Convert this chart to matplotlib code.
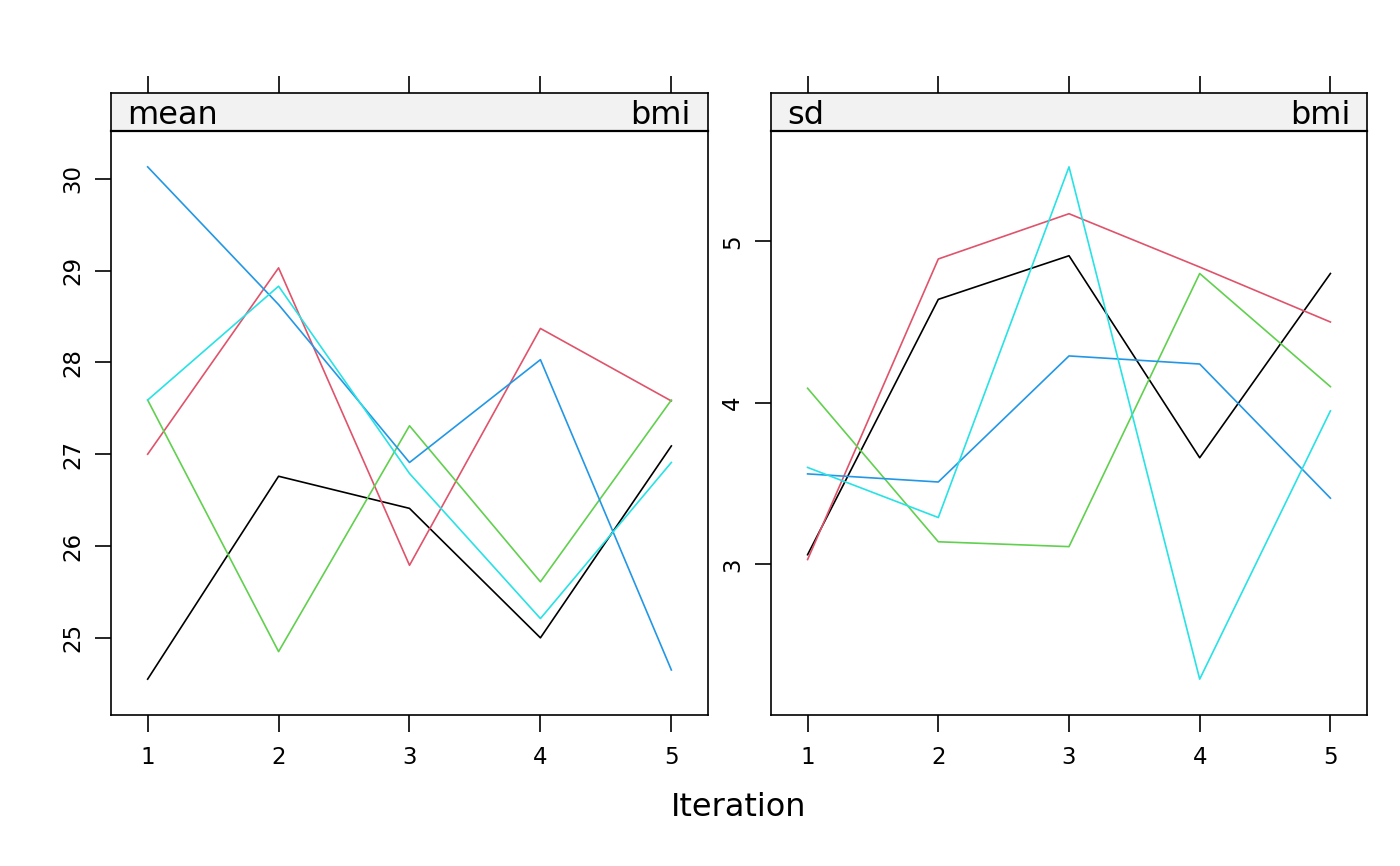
import numpy as np
import matplotlib
matplotlib.use("Agg")
import matplotlib.pyplot as plt

# iterations and chain values
iterations = [1, 2, 3, 4, 5]

mean_chain1 = [24.55, 26.76, 26.41, 25.00, 27.09]
mean_chain2 = [27.00, 29.03, 25.79, 28.37, 27.58]
mean_chain3 = [27.59, 24.85, 27.31, 25.61, 27.59]
mean_chain4 = [30.13, 28.63, 26.91, 28.03, 24.65]
mean_chain5 = [27.59, 28.83, 26.79, 25.21, 26.91]

sd_chain1 = [3.06, 4.64, 4.91, 3.66, 4.80]
sd_chain2 = [3.03, 4.89, 5.17, 4.84, 4.50]
sd_chain3 = [4.09, 3.14, 3.11, 4.80, 4.10]
sd_chain4 = [3.56, 3.51, 4.29, 4.24, 3.41]
sd_chain5 = [3.60, 3.29, 5.46, 2.29, 3.95]

chain_colors = ["#000000", "#DF536B", "#61D04F", "#2297E6", "#28E2E5"]

panels = [
    ("mean", "bmi", [mean_chain1, mean_chain2, mean_chain3, mean_chain4, mean_chain5], [25, 26, 27, 28, 29, 30]),
    ("sd", "bmi", [sd_chain1, sd_chain2, sd_chain3, sd_chain4, sd_chain5], [3, 4, 5]),
]

W, H = 1400, 866
fig = plt.figure(figsize=(W / 100, H / 100), dpi=100)
plt.rcParams['font.family'] = ['DejaVu Sans']

def frac(x0, y0, x1, y1):
    # pixel box -> figure fraction [left, bottom, width, height]
    return [x0 / W, 1 - y1 / H, (x1 - x0) / W, (y1 - y0) / H]

panel_boxes = [(111, 131, 708, 715), (771, 131, 1367, 715)]
strip_top = 93
lw = 1.2

for (stat, var, chains, yticks), (x0, y0, x1, y1) in zip(panels, panel_boxes):
    ax = fig.add_axes(frac(x0, y0, x1, y1))
    for vals, c in zip(chains, chain_colors):
        ax.plot(iterations, vals, color=c, linewidth=1.2)

    # lattice style 7% padding
    allv = np.concatenate([np.array(v) for v in chains])
    lo, hi = allv.min(), allv.max()
    pad = 0.07 * (hi - lo)
    ax.set_ylim(lo - pad, hi + pad)
    ax.set_xlim(1 - 0.07 * 4, 5 + 0.07 * 4)

    ax.set_xticks(iterations)
    ax.set_yticks(yticks)
    ax.tick_params(axis='x', direction='out', length=12, width=lw, pad=10, labelsize=16.5)
    ax.tick_params(axis='y', direction='out', length=11.5, width=lw, pad=8, labelsize=16.5)
    for lab in ax.get_yticklabels():
        lab.set_rotation(90)
        lab.set_va('center')
    for s in ax.spines.values():
        s.set_linewidth(lw)

    # strip on top
    st = fig.add_axes(frac(x0, strip_top, x1, y0))
    st.set_facecolor("#F2F2F2")
    st.set_xlim(ax.get_xlim())
    st.set_ylim(0, 1)
    st.set_xticks(iterations)
    st.set_yticks([])
    st.tick_params(axis='x', top=True, bottom=False, labeltop=False, labelbottom=False,
                   direction='out', length=12, width=lw)
    for s in st.spines.values():
        s.set_linewidth(lw)
    st.spines['bottom'].set_linewidth(1.6)
    st.text(0.027, 0.18, stat, transform=st.transAxes, ha='left', va='baseline', fontsize=23)
    st.text(0.9715, 0.18, var, transform=st.transAxes, ha='right', va='baseline', fontsize=23)

fig.text(739 / W, 1 - 807 / H, "Iteration", ha='center', va='center', fontsize=23)

fig.savefig("out.png", dpi=100)
